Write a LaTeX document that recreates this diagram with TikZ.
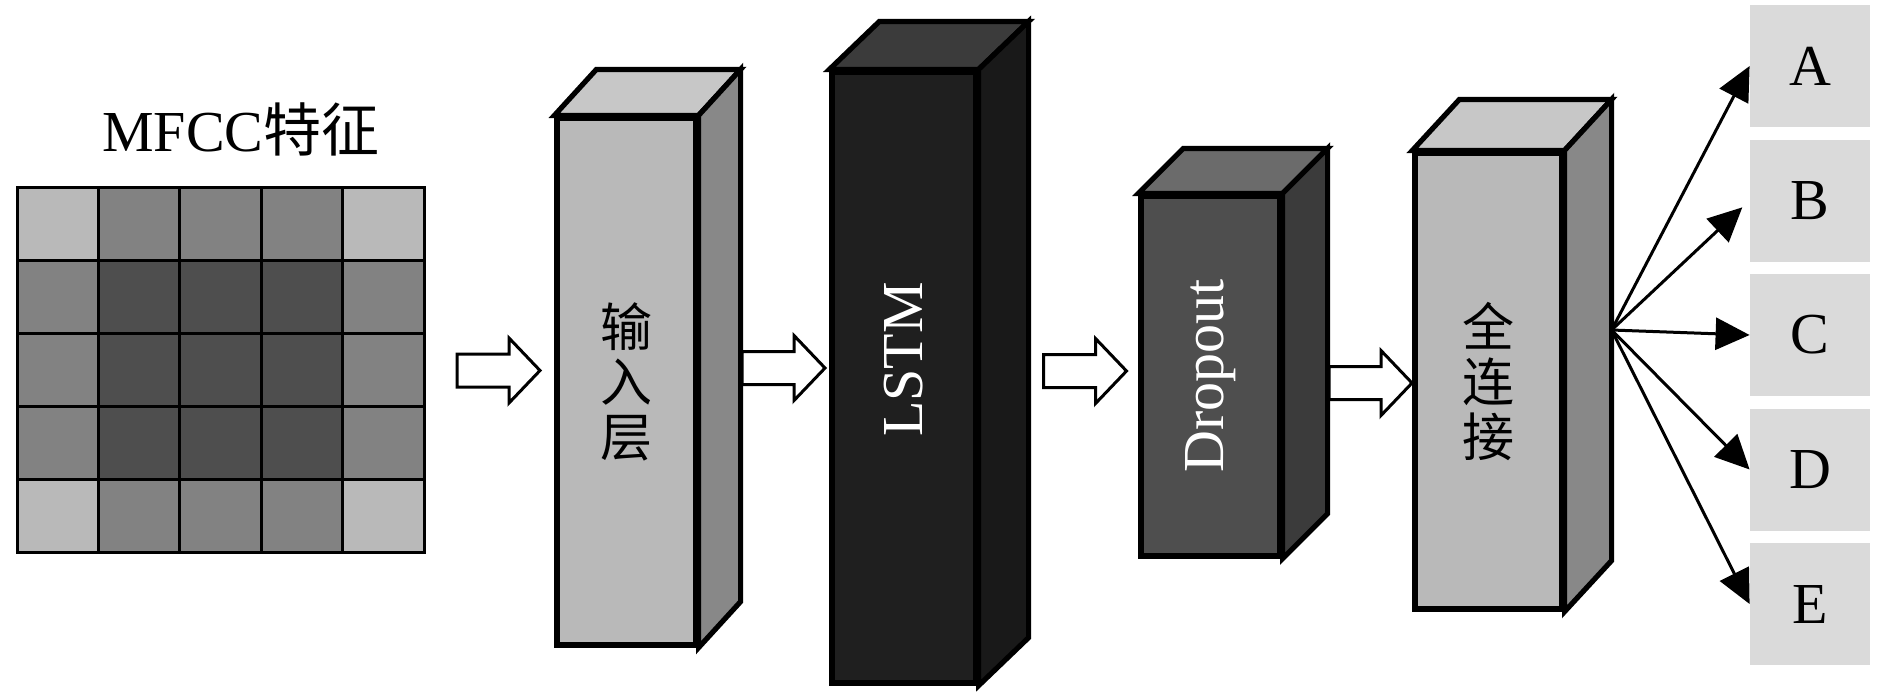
\documentclass[tikz,border=0pt]{standalone}
\usepackage{fontspec}
\setmainfont{Liberation Serif}
\newfontfamily\cjk{Noto Sans CJK SC}
\usetikzlibrary{arrows.meta}
\newcommand\pxu{0.5pt}
\definecolor{cell0}{HTML}{4E4E4E}
\definecolor{cell1}{HTML}{828282}
\definecolor{cell2}{HTML}{B9B9B9}
\definecolor{sidegray}{HTML}{888888}
\definecolor{topgray}{HTML}{C7C7C7}
\definecolor{outgray}{HTML}{DADADA}
\tikzset{
  cell/.style={draw,line width=1.5pt},
  face/.style={draw,line width=2.6pt},
  layer/.style 2 args={face,inner sep=0,minimum width=#1*\pxu,minimum height=#2*\pxu},
  flow/.style={draw,line width=1.5pt,fill=white},
  blockarrow/.pic={\draw[flow] (-41.5,-16.5)--++(52,0)--++(0,-16)--++(31,32.5)--++(-31,32.5)--++(0,-16)--++(-52,0)--cycle;},
  outbox/.style={fill=outgray,inner sep=0,minimum width=120*\pxu,minimum height=122*\pxu},
  fan/.style={line width=1.5pt,-{Triangle[length=17pt,width=16pt]}},
  hanzi/.style={font=\fontsize{26}{27.5}\selectfont\cjk,align=center}
}
\newcommand\boxfaces[5]{%
\filldraw[face,fill=#4] (#1.north west)--++(#2,#3)--([shift={(#2,#3)}]#1.north east)--(#1.north east)--cycle;
\filldraw[face,fill=#5] (#1.north east)--([shift={(#2,#3)}]#1.north east)--([shift={(#2,#3)}]#1.south east)--(#1.south east)--cycle;}
\begin{document}
\begin{tikzpicture}[x=0.5pt,y=-0.5pt,font=\fontsize{29}{34}\selectfont]
\useasboundingbox (0,0) rectangle (1890,692);
\node (title) at (241,129) {MFCC{\cjk 特征}};
\foreach \i in {0,...,4}{\foreach \j in {0,...,4}{
\pgfmathtruncatemacro\e{(\i==0||\i==4)+(\j==0||\j==4)}
\filldraw[cell,fill=cell\e] (17+81.4*\i,187+73*\j) rectangle ++(81.4,73);}}
\node[cell,inner sep=0,minimum width=407*\pxu,minimum height=365*\pxu] (mfcc) at (220.5,369.5) {};
\pic (arr1) at (498.5,370.5) {blockarrow};
\node[layer={139}{527},fill=cell2,hanzi] (inp) at (626.5,381.5) {输\\入\\层};
\boxfaces{inp}{42}{-46}{topgray}{sidegray}
\pic (arr2) at (783.5,368) {blockarrow};
\node[layer={144}{611},fill=black!88] (lstm) at (904,377.5) {};
\boxfaces{lstm}{50}{-48}{black!77}{black!90}
\node[rotate=90,text=white] (lstmtxt) at ([shift={(0,-18)}]lstm.center) {LSTM};
\pic (arr3) at (1085,371) {blockarrow};
\node[layer={139}{360},fill=cell0] (drop) at (1210.5,376) {};
\boxfaces{drop}{45}{-45}{black!58}{black!77}
\node[rotate=90,text=white] (droptxt) at (drop.center) {Dropout};
\pic (arr4) at (1370.5,383) {blockarrow};
\node[layer={147}{456},fill=cell2,hanzi] (fc) at (1488.5,381) {全\\连\\接};
\boxfaces{fc}{47}{-51}{topgray}{sidegray}
\coordinate (hub) at ([shift={(47,-51)}]fc.east);
\foreach \n/\y in {A/66,B/200.5,C/335,D/469.5,E/604}{\node[outbox] (\n) at (1810,\y) {\n};}
\foreach \n/\s in {A/0pt,B/5pt,C/0pt,D/0pt,E/0pt}{\draw[fan,shorten >=\s] (hub)--(\n.west);}
\end{tikzpicture}
\end{document}
